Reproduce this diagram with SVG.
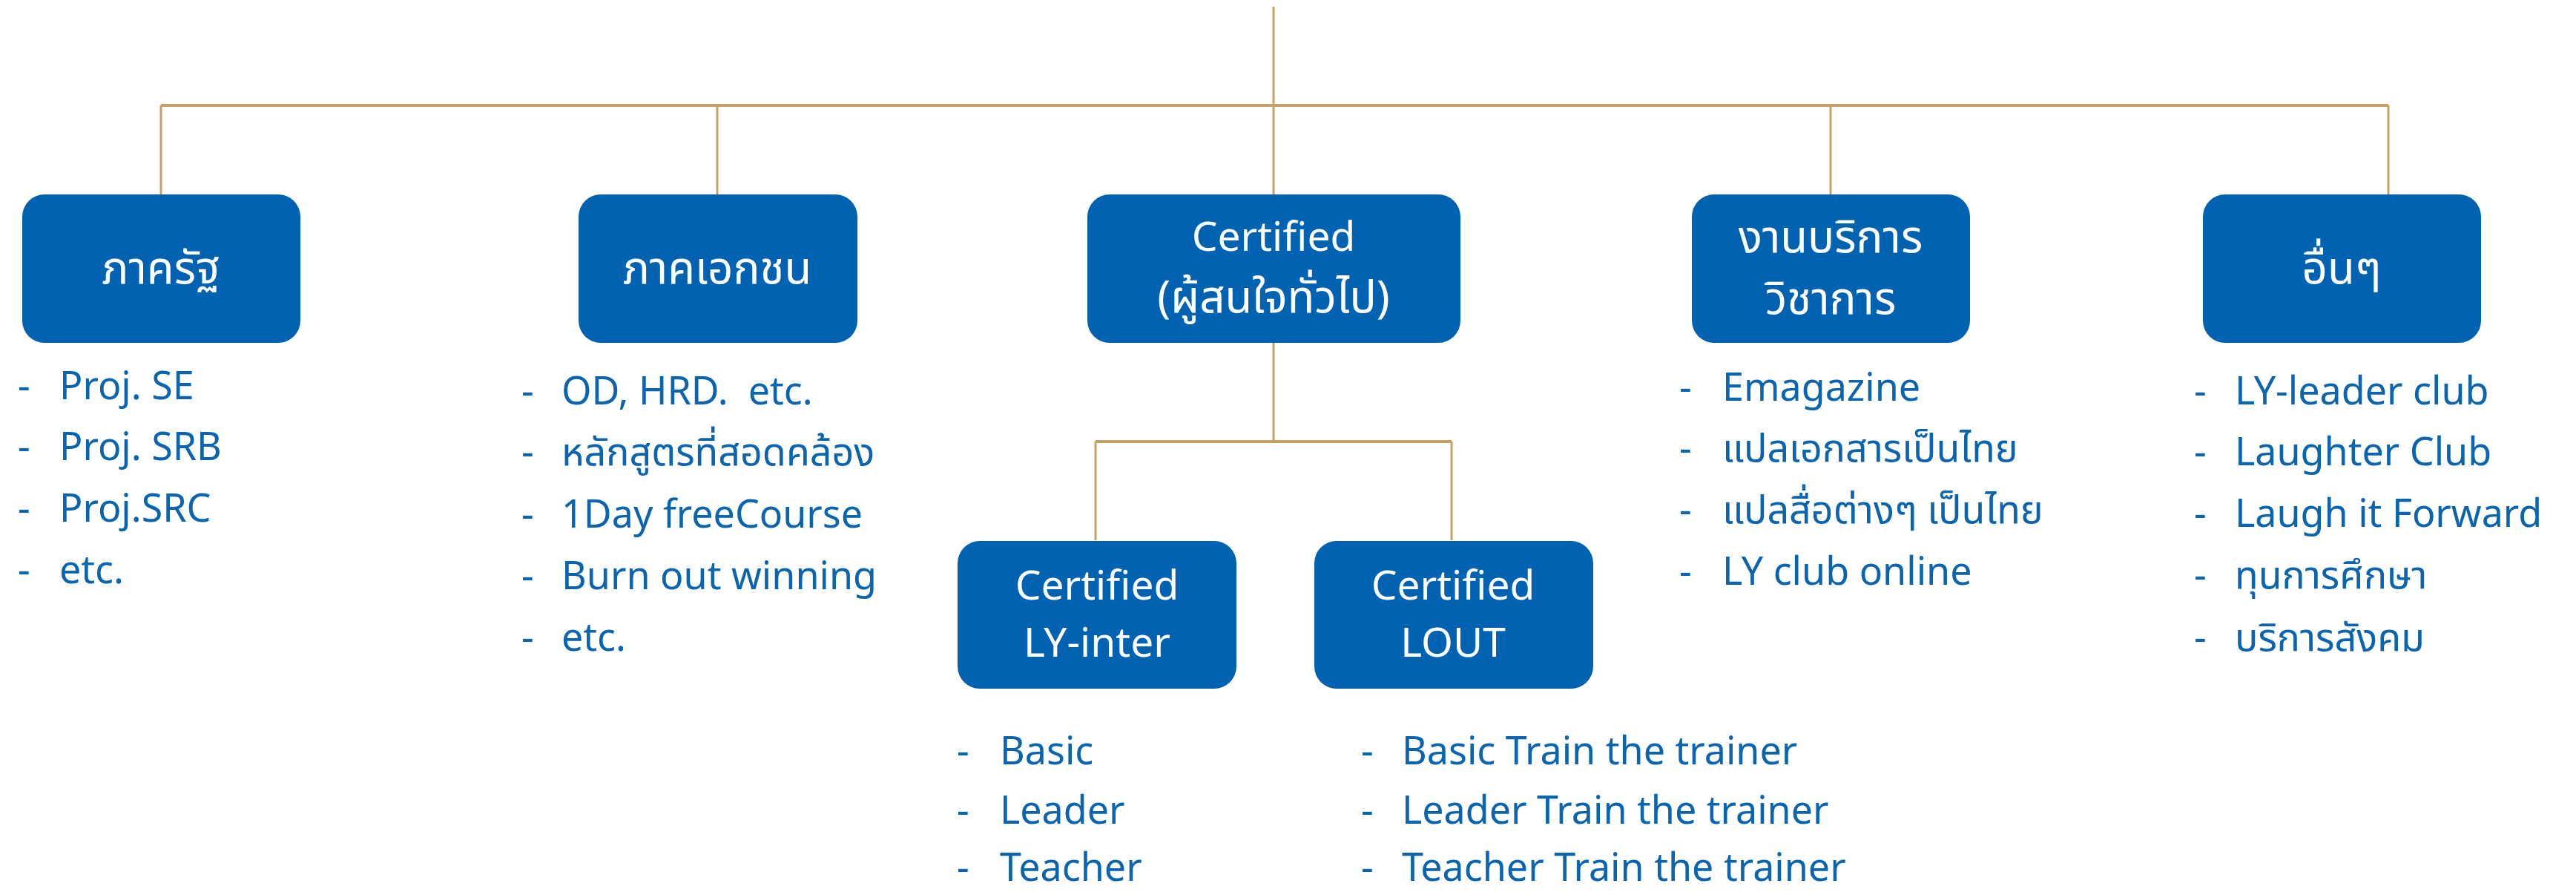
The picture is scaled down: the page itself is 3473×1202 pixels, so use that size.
<svg xmlns="http://www.w3.org/2000/svg" width="3473" height="1202" viewBox="0 0 3473 1202">
<style>
.box{fill:#0062B0;}
.bt{fill:#ffffff;font-family:"Noto Sans","Noto Sans Thai",sans-serif;font-size:55px;text-anchor:middle;}
.bth{fill:#ffffff;font-family:"Noto Sans","Noto Sans Thai",sans-serif;font-size:60px;text-anchor:middle;}
.li{fill:#0A64AE;font-family:"Noto Sans","Noto Sans Thai",sans-serif;font-size:52px;}
.con{stroke:#C9A063;stroke-width:3;fill:none;}
.conh{stroke:#C9A063;stroke-width:4;fill:none;}
</style>
<rect width="3473" height="1202" fill="#ffffff"/>
<g id="connectors">
<line class="con" x1="1717" y1="9" x2="1717" y2="262"/>
<line class="conh" x1="217" y1="142" x2="3220" y2="142"/>
<line class="con" x1="217" y1="142" x2="217" y2="262"/>
<line class="con" x1="967" y1="142" x2="967" y2="262"/>
<line class="con" x1="2468" y1="142" x2="2468" y2="262"/>
<line class="con" x1="3220" y1="142" x2="3220" y2="262"/>
<line class="con" x1="1717" y1="462" x2="1717" y2="595"/>
<line class="conh" x1="1477" y1="595" x2="1957" y2="595"/>
<line class="con" x1="1477" y1="595" x2="1477" y2="728"/>
<line class="con" x1="1957" y1="595" x2="1957" y2="728"/>
</g>
<g id="node-govt">
<rect class="box" x="30" y="262" width="375" height="200" rx="30"/>
<text class="bth" x="217" y="382">ภาครัฐ</text>
<text class="li"><tspan x="24" y="538">-</tspan><tspan x="80">Proj. SE</tspan></text>
<text class="li"><tspan x="24" y="620">-</tspan><tspan x="80">Proj. SRB</tspan></text>
<text class="li"><tspan x="24" y="703">-</tspan><tspan x="80">Proj.SRC</tspan></text>
<text class="li"><tspan x="24" y="786">-</tspan><tspan x="80">etc.</tspan></text>
</g>
<g id="node-private">
<rect class="box" x="780" y="262" width="376" height="200" rx="30"/>
<text class="bth" x="967" y="382">ภาคเอกชน</text>
<text class="li"><tspan x="703" y="545">-</tspan><tspan x="757">OD, HRD.&#160; etc.</tspan></text>
<text class="li"><tspan x="703" y="627">-</tspan><tspan x="757">หลักสูตรที่สอดคล้อง</tspan></text>
<text class="li"><tspan x="703" y="711">-</tspan><tspan x="757">1Day freeCourse</tspan></text>
<text class="li"><tspan x="703" y="794">-</tspan><tspan x="757">Burn out winning</tspan></text>
<text class="li"><tspan x="703" y="877">-</tspan><tspan x="757">etc.</tspan></text>
</g>
<g id="node-certified">
<rect class="box" x="1466" y="262" width="503" height="200" rx="30"/>
<text class="bt" x="1717" y="338">Certified</text>
<text class="bth" x="1717" y="421">(ผู้สนใจทั่วไป)</text>
</g>
<g id="node-lyinter">
<rect class="box" x="1291" y="729" width="376" height="199" rx="30"/>
<text class="bt" x="1479" y="808">Certified</text>
<text class="bt" x="1479" y="885">LY-inter</text>
<text class="li"><tspan x="1290" y="1030">-</tspan><tspan x="1348">Basic</tspan></text>
<text class="li"><tspan x="1290" y="1110">-</tspan><tspan x="1348">Leader</tspan></text>
<text class="li"><tspan x="1290" y="1187">-</tspan><tspan x="1348">Teacher</tspan></text>
</g>
<g id="node-lout">
<rect class="box" x="1772" y="729" width="376" height="199" rx="30"/>
<text class="bt" x="1959" y="808">Certified</text>
<text class="bt" x="1959" y="885">LOUT</text>
<text class="li"><tspan x="1835" y="1030">-</tspan><tspan x="1890">Basic Train the trainer</tspan></text>
<text class="li"><tspan x="1835" y="1110">-</tspan><tspan x="1890">Leader Train the trainer</tspan></text>
<text class="li"><tspan x="1835" y="1187">-</tspan><tspan x="1890">Teacher Train the trainer</tspan></text>
</g>
<g id="node-academic">
<rect class="box" x="2281" y="262" width="375" height="200" rx="30"/>
<text class="bth" x="2468" y="340">งานบริการ</text>
<text class="bth" x="2468" y="423">วิชาการ</text>
<text class="li"><tspan x="2264" y="540">-</tspan><tspan x="2322">Emagazine</tspan></text>
<text class="li"><tspan x="2264" y="622">-</tspan><tspan x="2322">แปลเอกสารเป็นไทย</tspan></text>
<text class="li"><tspan x="2264" y="705">-</tspan><tspan x="2322">แปลสื่อต่างๆ เป็นไทย</tspan></text>
<text class="li"><tspan x="2264" y="788">-</tspan><tspan x="2322">LY club online</tspan></text>
</g>
<g id="node-other">
<rect class="box" x="2970" y="262" width="375" height="200" rx="30"/>
<text class="bth" x="3157" y="382">อื่นๆ</text>
<text class="li"><tspan x="2958" y="545">-</tspan><tspan x="3013">LY-leader club</tspan></text>
<text class="li"><tspan x="2958" y="627">-</tspan><tspan x="3013">Laughter Club</tspan></text>
<text class="li"><tspan x="2958" y="710">-</tspan><tspan x="3013">Laugh it Forward</tspan></text>
<text class="li"><tspan x="2958" y="793">-</tspan><tspan x="3013">ทุนการศึกษา</tspan></text>
<text class="li"><tspan x="2958" y="877">-</tspan><tspan x="3013">บริการสังคม</tspan></text>
</g>
</svg>
